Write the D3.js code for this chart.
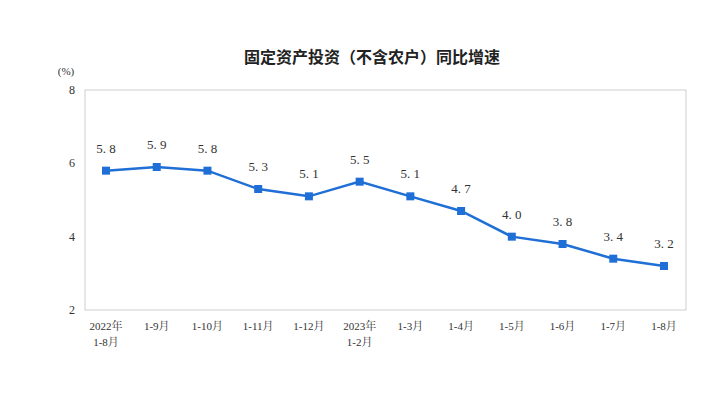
<!DOCTYPE html>
<html><head><meta charset="utf-8">
<script src="https://cdn.jsdelivr.net/npm/d3@7"></script>
<style>body{margin:0;background:#fff}</style>
</head><body>
<svg width="718" height="403"></svg>
<script>
var categories = [["2022年","1-8月"],["1-9月"],["1-10月"],["1-11月"],["1-12月"],["2023年","1-2月"],["1-3月"],["1-4月"],["1-5月"],["1-6月"],["1-7月"],["1-8月"]];
var values = [5.8, 5.9, 5.8, 5.3, 5.1, 5.5, 5.1, 4.7, 4.0, 3.8, 3.4, 3.2];
var yTicks = [2, 4, 6, 8];

var svg = d3.select('svg');
var blue = '#1f6fd6';
var serif = "'Liberation Serif','Noto Serif CJK SC','Noto Sans CJK SC',serif";

var x = d3.scalePoint().domain(d3.range(values.length)).range([106, 664]);
var y = d3.scaleLinear().domain([2, 8]).range([310, 90]);

// plot frame
svg.append('rect').attr('x', 85).attr('y', 90).attr('width', 601).attr('height', 220)
    .attr('fill', 'none').attr('stroke', '#cfcfcf').attr('stroke-width', 1);

svg.append('text').attr('x', 372).attr('y', 63).attr('text-anchor', 'middle')
    .attr('font-family', "'Noto Sans CJK SC',sans-serif").attr('font-size', 16).attr('font-weight', 'bold')
    .attr('fill', '#222').text('固定资产投资（不含农户）同比增速');

svg.append('text').attr('x', 66).attr('y', 75).attr('text-anchor', 'middle')
    .attr('font-family', serif).attr('font-size', 11).attr('fill', '#333').text('(%)');

// y axis labels
svg.selectAll('.ylab').data(yTicks).enter().append('text')
    .attr('x', 72).attr('y', d => y(d) + 4).attr('text-anchor', 'middle')
    .attr('font-family', serif).attr('font-size', 12).attr('fill', '#333').text(d => d);

// x labels
svg.selectAll('.xlab').data(categories).enter().append('text')
    .attr('text-anchor', 'middle').attr('font-family', serif).attr('font-size', 11).attr('fill', '#333')
    .each(function(d, i) {
        d3.select(this).selectAll('tspan').data(d).enter().append('tspan')
            .attr('x', x(i)).attr('y', (t, j) => 330 + j * 16).text(t => t);
    });

var line = d3.line().x((d, i) => x(i)).y(d => y(d));
svg.append('path').datum(values).attr('d', line).attr('fill', 'none')
    .attr('stroke', blue).attr('stroke-width', 2.5);

svg.selectAll('.pt').data(values).enter().append('rect')
    .attr('x', (d, i) => x(i) - 4).attr('y', d => y(d) - 4).attr('width', 8).attr('height', 8)
    .attr('fill', blue);

svg.selectAll('.val').data(values).enter().append('text')
    .attr('x', (d, i) => x(i)).attr('y', d => y(d) - 18).attr('text-anchor', 'middle')
    .attr('font-family', serif).attr('font-size', 13).attr('fill', '#333')
    .text(d => d.toFixed(1).replace('.', '. '));
</script>
</body></html>
